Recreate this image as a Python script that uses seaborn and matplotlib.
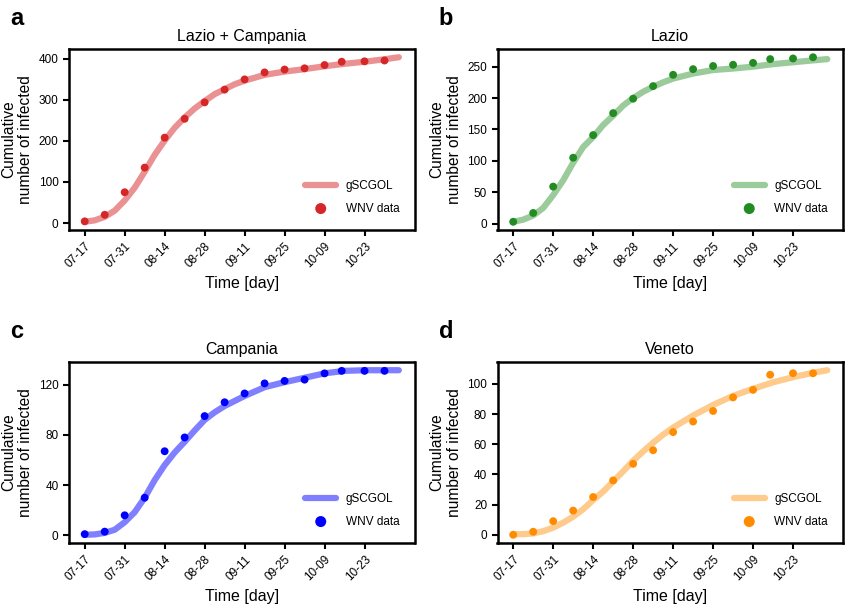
import numpy as np
import pandas as pd
import matplotlib
matplotlib.use("Agg")
import matplotlib.pyplot as plt
import matplotlib.dates as mdates
import seaborn as sns

# ---- data ----
start = pd.Timestamp("2018-07-17")

# observation days (offset from 07-17)
obs_days = [0, 7, 14, 21, 28, 35, 42, 49, 56, 63, 70, 77, 84, 90, 98, 105]

lazio = [3, 17, 59, 105, 141, 176, 199, 219, 237, 246, 251, 253, 256, 262, 263, 265]
campania = [1, 3, 16, 30, 67, 78, 95, 106, 113, 121, 123, 124, 129, 131, 131, 131]
lazio_campania = [4, 20, 75, 135, 208, 254, 294, 325, 350, 367, 374, 377, 385, 393, 394, 396]
veneto = [0, 2, 9, 16, 25, 36, 47, 56, 68, 75, 82, 91, 96, 106, 107, 107]

# fitted gSCGOL curves, read at these days
fit_days = [0, 3.5, 7, 10.5, 14, 17.5, 21, 24.5, 28, 31.5, 35, 38.5, 42, 45.5,
            49, 52.5, 56, 63, 70, 77, 84, 91, 98, 105, 110]

fit_lazio_campania = [3, 6.5, 15, 30, 55, 86, 125, 166, 201, 232, 257, 279, 297,
                      314, 326, 338, 347, 361, 369, 375, 382, 388, 393, 399, 404]
fit_lazio = [3, 6.4, 13, 25, 45.5, 69, 97, 122, 138, 157, 172, 188, 200, 210,
             218, 225, 231, 239, 244.6, 247, 250, 254, 257, 260, 262]
fit_campania = [0.5, 0.8, 2, 4.5, 10.5, 18.5, 30, 44, 56, 66, 74.5, 83.5, 92, 98,
                103, 107, 111, 118, 122, 125.5, 129, 131, 131.5, 131.5, 131.5]
fit_veneto = [0.4, 0.4, 0.9, 2.4, 4.7, 8, 12, 16.9, 23, 28.6, 35.3, 42, 49, 55.2,
              61, 66.3, 71, 79, 86, 92, 96.7, 101, 104.4, 107.3, 109]

titles = ["Lazio + Campania", "Lazio", "Campania", "Veneto"]
letters = ["a", "b", "c", "d"]
point_colors = ["#d62728", "#228b22", "#0000ff", "#ff8c00"]
line_alpha = [0.5, 0.45, 0.5, 0.45]
yticks = [[0, 100, 200, 300, 400], [0, 50, 100, 150, 200, 250],
          [0, 40, 80, 120], [0, 20, 40, 60, 80, 100]]

obs_dates = [start + pd.Timedelta(days=d) for d in obs_days]
fit_dates = [start + pd.Timedelta(days=d) for d in fit_days]

sns.set_theme(style="ticks")
plt.rcParams["font.family"] = ["Liberation Sans", "DejaVu Sans"]
plt.rcParams["axes.linewidth"] = 1.8
plt.rcParams["xtick.major.width"] = 1.5
plt.rcParams["ytick.major.width"] = 1.5
plt.rcParams["xtick.major.size"] = 4
plt.rcParams["ytick.major.size"] = 4
plt.rcParams["text.color"] = "black"
plt.rcParams["axes.labelcolor"] = "black"
plt.rcParams["xtick.color"] = "black"
plt.rcParams["ytick.color"] = "black"

fig, axes = plt.subplots(2, 2, figsize=(8.51, 6.08), dpi=100)
fig.subplots_adjust(left=69 / 851, right=843 / 851, top=1 - 49 / 608,
                    bottom=1 - 543 / 608, wspace=83 / 345.5, hspace=132 / 181)

series = [(lazio_campania, fit_lazio_campania), (lazio, fit_lazio),
          (campania, fit_campania), (veneto, fit_veneto)]
ticks = [start + pd.Timedelta(days=14 * k) for k in range(8)]

for i, ax in enumerate(axes.flat):
    obs, fit = series[i]
    df_fit = pd.DataFrame({"date": fit_dates, "value": fit})
    df_obs = pd.DataFrame({"date": obs_dates, "value": obs})

    sns.lineplot(data=df_fit, x="date", y="value", ax=ax, color=point_colors[i],
                 alpha=line_alpha[i], lw=4.5, label="gSCGOL")
    sns.scatterplot(data=df_obs, x="date", y="value", ax=ax, color=point_colors[i],
                    s=32, edgecolor="none", label="WNV data", zorder=3)

    ax.set_title(titles[i], fontsize=11.5)
    ax.set_xlabel("Time [day]", fontsize=11.5)
    ax.set_ylabel("Cumulative\nnumber of infected", fontsize=11.2)
    ax.set_yticks(yticks[i])
    ax.set_xticks(ticks)
    ax.xaxis.set_major_formatter(mdates.DateFormatter("%m-%d"))
    for lab in ax.get_xticklabels():
        lab.set_rotation(45)
        lab.set_ha("right")
        lab.set_rotation_mode("anchor")
    ax.tick_params(axis="both", labelsize=8.5, color="black")
    for sp in ax.spines.values():
        sp.set_color("black")

    ax.legend(loc="lower right", frameon=False, fontsize=8.5,
              handlelength=2.6, markerscale=1.4, borderaxespad=0.9,
              labelspacing=0.9)

    bb = ax.get_position()
    fig.text(bb.x0 - 0.069, bb.y1 + 0.05, letters[i], fontsize=17,
             fontweight="bold", va="center", ha="left")

fig.savefig("out.png", dpi=100)
